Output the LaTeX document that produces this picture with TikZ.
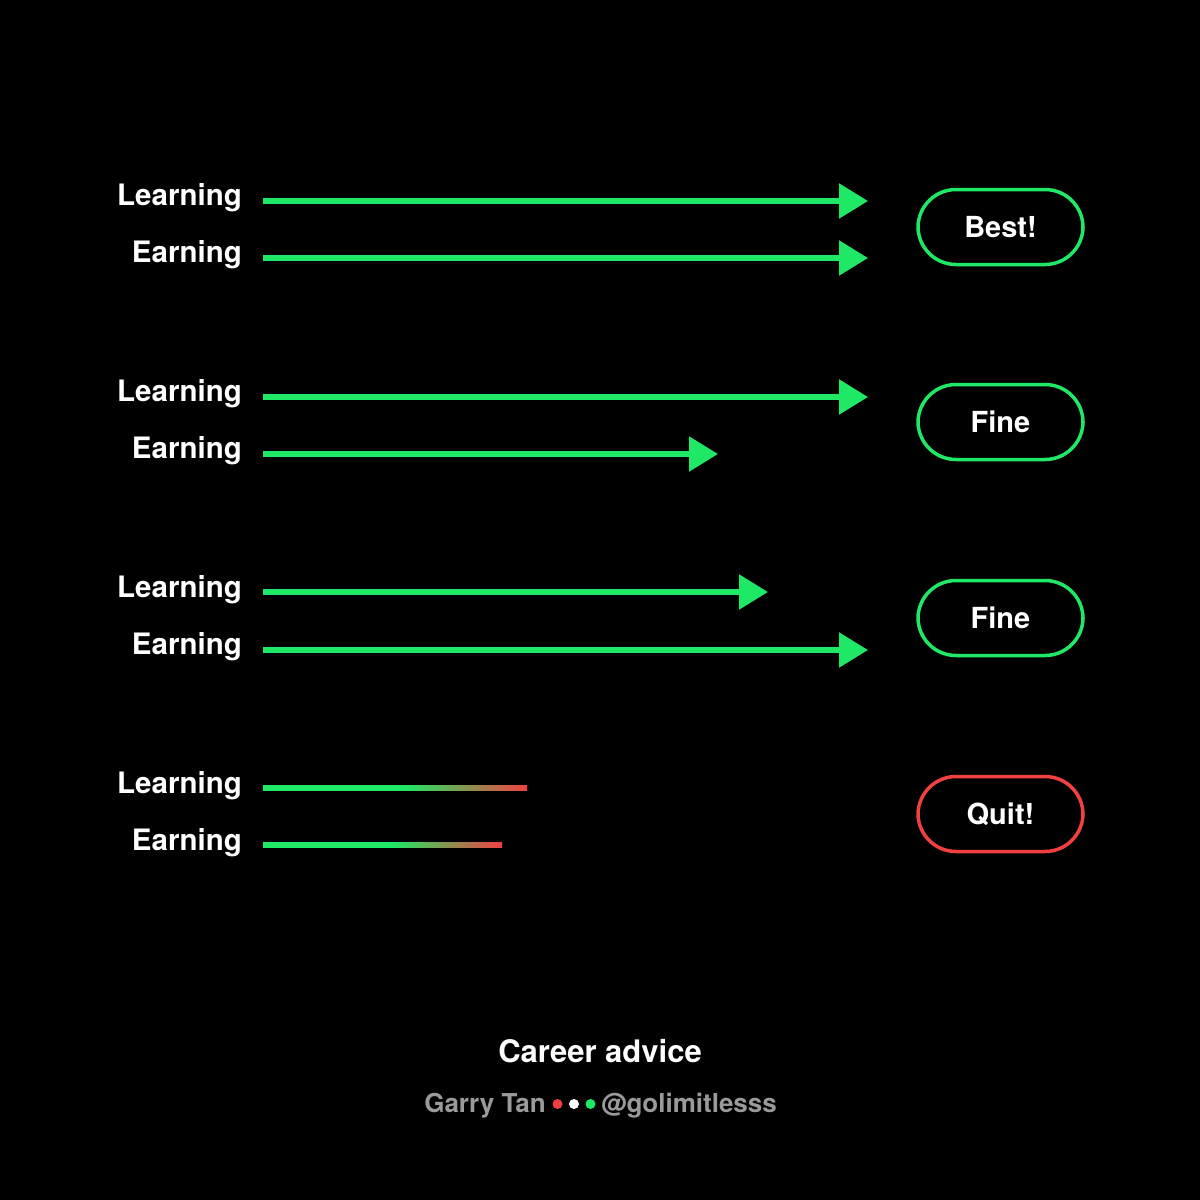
\documentclass[tikz,border=0pt]{standalone}
\usepackage{fontspec}
\setmainfont{TeX Gyre Heros}
\usetikzlibrary{arrows.meta}
\definecolor{grn}{HTML}{1EE865}
\definecolor{rd}{HTML}{F04040}
\definecolor{gry}{HTML}{9A9A9A}
\begin{document}
\begin{tikzpicture}[x=1pt,y=-1pt,
  lbl/.style={anchor=base east,text=white,font=\fontsize{29.5}{32}\selectfont\bfseries,inner sep=0pt},
  arr/.style={grn,line width=5.5pt,-{Triangle[length=29pt,width=34pt]}},
  pill/.style={draw=grn,line width=3.5pt,rounded corners=38pt,minimum width=165pt,minimum height=75pt,text=white,font=\fontsize{29}{32}\selectfont\bfseries},
  dotc/.style={circle,inner sep=0pt,minimum size=10pt}]
\fill[black] (0,0) rectangle (1200,1200);
\useasboundingbox (0,0) rectangle (1200,1200);
% group 1
\node[lbl] (L1) at (242,205) {Learning};
\node[lbl] (E1) at (242,262) {Earning};
\coordinate (L1s) at (263,201); \coordinate (L1e) at (868,201);
\coordinate (E1s) at (263,258); \coordinate (E1e) at (868,258);
\draw[arr] (L1s) -- (L1e);
\draw[arr] (E1s) -- (E1e);
\node[pill] (B1) at (1000.5,227) {Best!};
% group 2
\node[lbl] (L2) at (242,401) {Learning};
\node[lbl] (E2) at (242,458) {Earning};
\coordinate (L2s) at (263,397); \coordinate (L2e) at (868,397);
\coordinate (E2s) at (263,454); \coordinate (E2e) at (718,454);
\draw[arr] (L2s) -- (L2e);
\draw[arr] (E2s) -- (E2e);
\node[pill] (B2) at (1000.5,422) {Fine};
% group 3
\node[lbl] (L3) at (242,597) {Learning};
\node[lbl] (E3) at (242,654) {Earning};
\coordinate (L3s) at (263,592); \coordinate (L3e) at (768,592);
\coordinate (E3s) at (263,650); \coordinate (E3e) at (868,650);
\draw[arr] (L3s) -- (L3e);
\draw[arr] (E3s) -- (E3e);
\node[pill] (B3) at (1000.5,618) {Fine};
% group 4
\node[lbl] (L4) at (242,793) {Learning};
\node[lbl] (E4) at (242,850) {Earning};
\fill[grn] (263,785.25) rectangle (406,790.75);
\shade[left color=grn,right color=rd] (405,785.25) rectangle (527,790.75);
\fill[grn] (263,842.25) rectangle (393,847.75);
\shade[left color=grn,right color=rd] (392,842.25) rectangle (502,847.75);
\node[pill,draw=rd] (B4) at (1000.5,814) {Quit!};
% footer
\node[anchor=base,text=white,font=\fontsize{31}{34}\selectfont\bfseries,inner sep=0pt] (T) at (600,1062) {Career advice};
\node[anchor=base east,text=gry,font=\fontsize{26}{30}\selectfont\bfseries,inner sep=0pt] (N) at (546,1112) {Garry Tan};
\node[dotc,fill=rd] (D1) at (557.5,1104) {};
\node[dotc,fill=white] (D2) at (574,1104) {};
\node[dotc,fill=grn] (D3) at (590.5,1104) {};
\node[anchor=base west,text=gry,font=\fontsize{26}{30}\selectfont\bfseries,inner sep=0pt] (H) at (601,1112) {@golimitlesss};
\end{tikzpicture}
\end{document}
